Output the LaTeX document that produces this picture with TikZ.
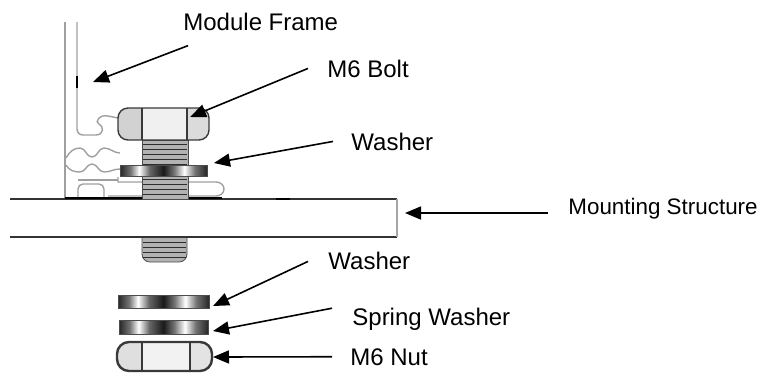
\documentclass[tikz,border=0pt]{standalone}
\usepackage{fontspec}
\setmainfont{Liberation Sans}
\usetikzlibrary{arrows.meta}

\pgfdeclarehorizontalshading{washershade}{100bp}{color(0bp)=(black!85); color(25bp)=(black!85); color(31bp)=(black!55); color(36bp)=(white); color(42bp)=(black!60); color(50bp)=(black!90); color(56bp)=(black!55); color(62bp)=(white); color(68bp)=(black!55); color(75bp)=(black!85); color(100bp)=(black!85)}

\begin{document}
\begin{tikzpicture}[x=0.5pt,y=-0.5pt,
    lbl/.style={anchor=base west,inner sep=0pt,font=\fontsize{12}{14}\selectfont},
    pointer/.style={line width=0.8pt,-{Triangle[length=8pt,width=6.5pt]}},
    frameline/.style={gray!75,line width=0.7pt},
    plateline/.style={black!80,line width=0.8pt},
    washer/.style={shade,shading=washershade,draw=black!70,line width=0.4pt},
    thread/.style={fill=gray!60,draw=gray!60!black,line width=0.4pt},
    threadline/.style={gray!35!black,line width=0.5pt},
    hexline/.style={draw=gray!45!black,line width=0.7pt}]
        \useasboundingbox (0,0) rectangle (771,372);

        % module frame profile
        \draw[frameline] (65,22) -- (65,198);
        \draw[frameline] (77,22) -- (77,129) to[out=-90,in=180] (83,135) -- (96,135)
            .. controls (104,135) and (104,126) .. (99,124)
            .. controls (94,122) and (100,114) .. (108,116) -- (118,118);
        \draw[black,line width=0.8pt] (77,76) -- (77,88);
        \draw[frameline] (66,158) to[out=60,in=180] (80,148) to[out=0,in=180] (92,157)
            to[out=0,in=180] (104,148) to[out=0,in=180] (120,153);
        \draw[frameline] (66,165) to[out=-60,in=180] (80,172) to[out=0,in=180] (92,164)
            to[out=0,in=180] (104,172) to[out=0,in=180] (120,169);
        \draw[frameline] (78,180) -- (118,180);
        \draw[frameline] (118,177) -- (118,182) -- (216,182) to[out=0,in=90] (224,189)
            to[out=-90,in=0] (216,196) -- (108,196);
        \draw[frameline] (78,198) -- (78,189) to[out=90,in=180] (83,184) -- (99,184)
            to[out=0,in=90] (104,189) -- (104,198);

        % mounting structure
        \draw[plateline] (10,199) -- (397,199);
        \draw[plateline] (10,237) -- (397,237);
        \draw[gray!70,line width=0.8pt] (397,199) -- (397,237);
        \draw[black,line width=1.2pt] (65,198) -- (222,198);
        \draw[black,line width=1.2pt] (276,199) -- (290,199);

        % bolt
        \filldraw[thread] (142,140) rectangle (188,199);
        \foreach \y in {144,149,...,194}
            \draw[threadline] (143,\y) -- (187,\y);
        \filldraw[thread,rounded corners=4] (142,238) -- (142,262) -- (187,262) -- (187,238);
        \foreach \y in {242,247,...,257}
            \draw[threadline] (143,\y) -- (186,\y);
        \begin{scope}
            \clip[rounded corners=5] (118,108) rectangle (209,140);
            \fill[gray!35] (118,108) rectangle (142,140);
            \fill[gray!12] (142,108) rectangle (187,140);
            \fill[gray!28] (187,108) rectangle (209,140);
        \end{scope}
        \draw[hexline,rounded corners=5] (118,108) rectangle (209,140);
        \draw[hexline] (142,108) -- (142,140);
        \draw[hexline] (187,108) -- (187,140);

        % washers and nut
        \path[washer] (120,165) rectangle (207,176);
        \path[washer] (118,295) rectangle (209,308);
        \path[washer] (119,320) rectangle (208,334);
        \begin{scope}
            \clip[rounded corners=6] (117,342) rectangle (212,371);
            \fill[gray!25] (117,342) rectangle (142,371);
            \fill[gray!10] (142,342) rectangle (190,371);
            \fill[gray!22] (190,342) rectangle (212,371);
        \end{scope}
        \draw[hexline,line width=1.2pt,rounded corners=6] (117,342) rectangle (212,371);
        \draw[hexline,line width=1pt] (142,342) -- (142,371);
        \draw[hexline,line width=1pt] (190,342) -- (190,371);

        % labels
        \node[lbl] (frame) at (183,30) {Module Frame};
        \node[lbl] (bolt) at (327,77) {M6 Bolt};
        \node[lbl] (washtop) at (351,150) {Washer};
        \node[lbl,font=\fontsize{11.2}{13}\selectfont] (mount) at (568,214) {Mounting Structure};
        \node[lbl] (washlow) at (328,269) {Washer};
        \node[lbl] (spring) at (352,325) {Spring Washer};
        \node[lbl] (nut) at (350,365) {M6 Nut};

        \coordinate (frametip) at (93,82);
        \coordinate (bolttip) at (190,117);
        \coordinate (washtoptip) at (214,163);
        \coordinate (mounttip) at (405,213);
        \coordinate (washlowtip) at (213,306);
        \coordinate (springtip) at (213,331);
        \coordinate (nuttip) at (213,357);

        \draw[pointer] ([shift={(5,15)}]frame.south west) -- (frametip);
        \draw[pointer] ([shift={(-19,0)}]bolt.west) -- (bolttip);
        \draw[pointer] ([shift={(-18,0)}]washtop.west) -- (washtoptip);
        \draw[pointer] ([shift={(-20,-1)}]mount.base west) -- (mounttip);
        \draw[pointer] ([shift={(-20,1)}]washlow.west) -- (washlowtip);
        \draw[pointer] ([shift={(-20,1)}]spring.north west) -- (springtip);
        \draw[pointer] ([shift={(-18,0)}]nut.west) -- (nuttip);
\end{tikzpicture}
\end{document}
